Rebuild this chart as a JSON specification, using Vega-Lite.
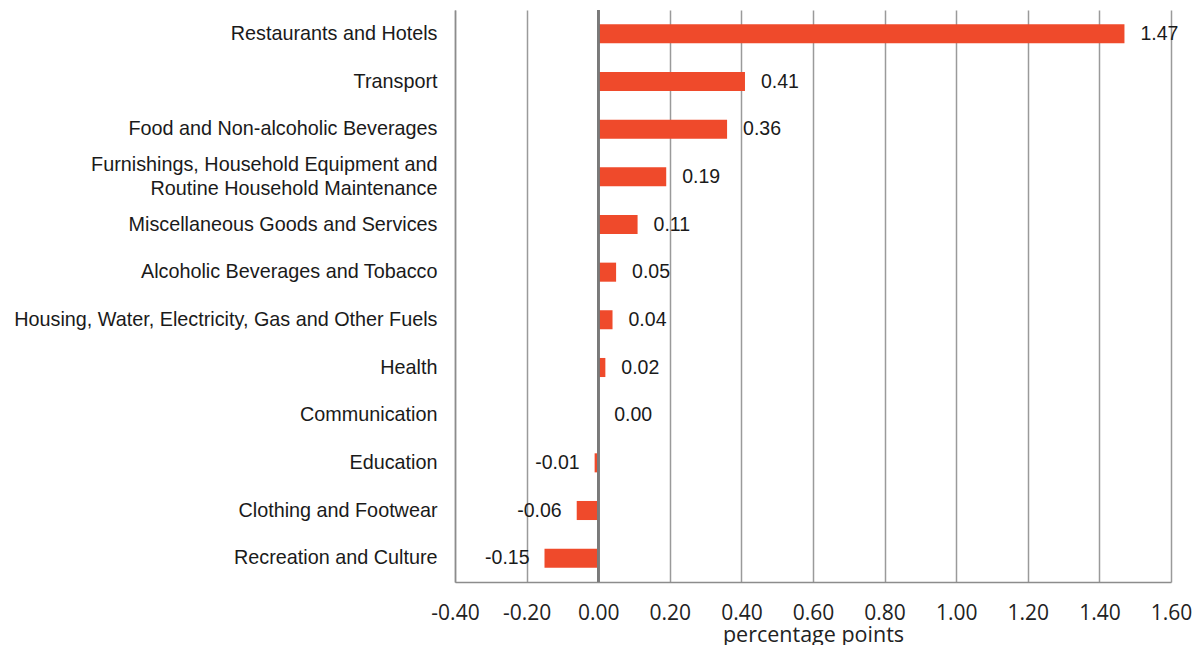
{
  "$schema": "https://vega.github.io/schema/vega-lite/v6.json",
  "width": 716,
  "height": 572,
  "autosize": {"type": "none"},
  "padding": {"left": 455, "top": 10, "right": 25, "bottom": 63},
  "background": "white",
  "config": {"view": {"stroke": null}},
  "data": {"values": [
    {"category": "Restaurants and Hotels", "value": 1.47},
    {"category": "Transport", "value": 0.41},
    {"category": "Food and Non-alcoholic Beverages", "value": 0.36},
    {"category": "Furnishings, Household Equipment and\nRoutine Household Maintenance", "value": 0.19},
    {"category": "Miscellaneous Goods and Services", "value": 0.11},
    {"category": "Alcoholic Beverages and Tobacco", "value": 0.05},
    {"category": "Housing, Water, Electricity, Gas and Other Fuels", "value": 0.04},
    {"category": "Health", "value": 0.02},
    {"category": "Communication", "value": 0.0},
    {"category": "Education", "value": -0.01},
    {"category": "Clothing and Footwear", "value": -0.06},
    {"category": "Recreation and Culture", "value": -0.15}
  ]},
  "encoding": {
    "y": {
      "field": "category", "type": "nominal", "sort": null,
      "scale": {"paddingInner": 0.6, "paddingOuter": 0.3},
      "axis": {
        "title": null, "ticks": false, "labelPadding": 18, "labelFont": "Liberation Sans",
        "labelFontSize": 19.8, "labelColor": "#1a1a1a", "labelLimit": 500,
        "labelLineHeight": 24,
        "labelExpr": "split(datum.label, '\\n')",
        "labelOffset": {"condition": {"test": "indexof(datum.label, '\\n') >= 0", "value": -12}, "value": 0},
        "domainColor": "#8c8c8c", "domainWidth": 1.5
      }
    }
  },
  "layer": [
    {
      "mark": {"type": "bar", "color": "#EF4A2B"},
      "encoding": {
        "x": {
          "field": "value", "type": "quantitative",
          "scale": {"domain": [-0.4, 1.6], "nice": false, "zero": false},
          "axis": {
            "values": [-0.4, -0.2, 0, 0.2, 0.4, 0.6, 0.8, 1.0, 1.2, 1.4, 1.6],
            "labelExpr": "replace(format(datum.value, '.2f'), '\u2212', '-')",
            "title": "percentage points", "titleFont": "Open Sans", "titleFontSize": 21.5,
            "titleFontWeight": "normal", "titleColor": "#222", "titlePadding": 1,
            "labelFont": "Open Sans", "labelFontSize": 21, "labelColor": "#222",
            "labelPadding": 20, "ticks": false, "labelFlush": false,
            "grid": true, "gridColor": "#9a9a9a", "gridWidth": 1.5,
            "domainColor": "#8c8c8c", "domainWidth": 1.5
          }
        }
      }
    },
    {
      "mark": {"type": "rule", "color": "#7a7a7a", "strokeWidth": 2},
      "encoding": {"x": {"datum": 0, "type": "quantitative"}, "y": {"value": 0}, "y2": {"value": 572}}
    },
    {
      "transform": [{"filter": "datum.value >= 0"}],
      "mark": {"type": "text", "align": "left", "dx": 16, "font": "Liberation Sans", "fontSize": 19.5, "color": "#1a1a1a",
        "text": {"expr": "replace(format(datum.value, '.2f'), '\u2212', '-')"}},
      "encoding": {
        "x": {"field": "value", "type": "quantitative"}
      }
    },
    {
      "transform": [{"filter": "datum.value < 0"}],
      "mark": {"type": "text", "align": "right", "dx": -15, "font": "Liberation Sans", "fontSize": 19.5, "color": "#1a1a1a",
        "text": {"expr": "replace(format(datum.value, '.2f'), '\u2212', '-')"}},
      "encoding": {
        "x": {"field": "value", "type": "quantitative"}
      }
    }
  ]
}
